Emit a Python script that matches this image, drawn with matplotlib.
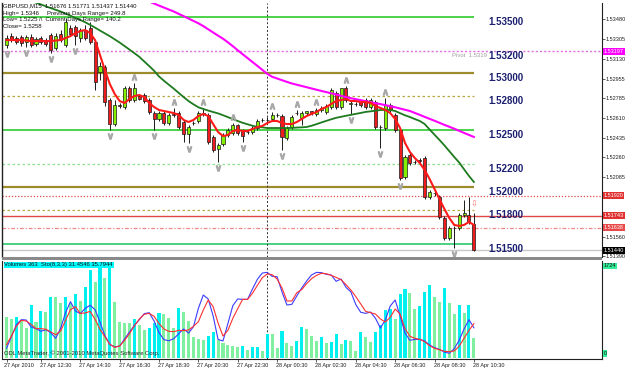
import matplotlib
matplotlib.use("Agg")
import matplotlib.pyplot as plt
import matplotlib.transforms as mtrans
from matplotlib.patches import Rectangle
import numpy as np

plt.rcParams['font.family'] = ['Liberation Sans', 'DejaVu Sans']

# ---------------- data ----------------
header = "GBPUSD,M15  1.51676 1.51771 1.51437 1.51440"
info_lines = ["High= 1.5346     Previous Days Range= 249.8",
              "Low= 1.5225 /\\  Current Days Range= 140.2",
              "Close= 1.5258"]

opens = [1.53251, 1.53330, 1.53313, 1.53322, 1.53278, 1.53322, 1.53260, 1.53313, 1.53295, 1.53339,
         1.53225, 1.53348, 1.53251, 1.53401, 1.53410, 1.53313, 1.53383, 1.53401, 1.53278, 1.53013,
         1.53057, 1.52766, 1.52554, 1.52722, 1.52704, 1.52872, 1.52766, 1.52801, 1.52810, 1.52766,
         1.52651, 1.52598, 1.52651, 1.52563, 1.52643, 1.52651, 1.52572, 1.52466, 1.52563, 1.52581,
         1.52651, 1.52634, 1.52440, 1.52334, 1.52378, 1.52457, 1.52475, 1.52546, 1.52493, 1.52484,
         1.52484, 1.52519, 1.52590, 1.52590, 1.52598, 1.52634, 1.52625, 1.52431, 1.52528, 1.52651,
         1.52607, 1.52651, 1.52669, 1.52643, 1.52678, 1.52660, 1.52704, 1.52828, 1.52704, 1.52872,
         1.52731, 1.52731, 1.52748, 1.52766, 1.52704, 1.52748, 1.52528, 1.52519, 1.52722, 1.52634,
         1.52501, 1.52087, 1.52281, 1.52219, 1.52237, 1.52254, 1.51911, 1.51946, 1.51911, 1.51725,
         1.51549, 1.51637, 1.51637, 1.51752, 1.51752, 1.51676]
highs = [1.53339, 1.53357, 1.53330, 1.53339, 1.53339, 1.53348, 1.53322, 1.53330, 1.53313, 1.53357,
         1.53357, 1.53383, 1.53489, 1.53428, 1.53428, 1.53401, 1.53428, 1.53454, 1.53295, 1.53101,
         1.53075, 1.52784, 1.52766, 1.52740, 1.52889, 1.52889, 1.52916, 1.52819, 1.52828, 1.52784,
         1.52669, 1.52669, 1.52669, 1.52651, 1.52696, 1.52669, 1.52590, 1.52546, 1.52581, 1.52669,
         1.52696, 1.52651, 1.52457, 1.52387, 1.52475, 1.52519, 1.52563, 1.52554, 1.52510, 1.52501,
         1.52537, 1.52598, 1.52607, 1.52616, 1.52660, 1.52651, 1.52643, 1.52537, 1.52634, 1.52678,
         1.52669, 1.52669, 1.52669, 1.52696, 1.52713, 1.52731, 1.52872, 1.52845, 1.52872, 1.52889,
         1.52757, 1.52748, 1.52766, 1.52784, 1.52784, 1.52766, 1.52546, 1.52784, 1.52740, 1.52651,
         1.52519, 1.52281, 1.52299, 1.52237, 1.52254, 1.52272, 1.51972, 1.51963, 1.51928, 1.51743,
         1.51655, 1.51655, 1.51769, 1.51884, 1.51911, 1.51771]
lows = [1.53225, 1.53278, 1.53260, 1.53242, 1.53233, 1.53233, 1.53242, 1.53260, 1.53242, 1.53181,
        1.53207, 1.53278, 1.53233, 1.53330, 1.53251, 1.53278, 1.53295, 1.53260, 1.52854, 1.52942,
        1.52713, 1.52501, 1.52537, 1.52696, 1.52687, 1.52748, 1.52748, 1.52766, 1.52740, 1.52643,
        1.52501, 1.52581, 1.52546, 1.52546, 1.52616, 1.52510, 1.52396, 1.52387, 1.52546, 1.52563,
        1.52625, 1.52378, 1.52307, 1.52219, 1.52360, 1.52440, 1.52457, 1.52457, 1.52396, 1.52466,
        1.52466, 1.52501, 1.52572, 1.52572, 1.52581, 1.52616, 1.52325, 1.52413, 1.52510, 1.52634,
        1.52546, 1.52634, 1.52634, 1.52625, 1.52660, 1.52643, 1.52687, 1.52687, 1.52687, 1.52748,
        1.52643, 1.52713, 1.52704, 1.52687, 1.52687, 1.52510, 1.52343, 1.52501, 1.52660, 1.52484,
        1.52061, 1.52070, 1.52193, 1.52201, 1.52210, 1.51893, 1.51893, 1.51921, 1.51716, 1.51531,
        1.51531, 1.51461, 1.51620, 1.51734, 1.51672, 1.51437]
closes = [1.53313, 1.53295, 1.53278, 1.53269, 1.53322, 1.53251, 1.53304, 1.53278, 1.53260, 1.53207,
          1.53330, 1.53295, 1.53454, 1.53348, 1.53330, 1.53383, 1.53313, 1.53278, 1.52925, 1.53066,
          1.52748, 1.52554, 1.52722, 1.52713, 1.52872, 1.52766, 1.52872, 1.52775, 1.52757, 1.52660,
          1.52598, 1.52651, 1.52563, 1.52634, 1.52634, 1.52528, 1.52466, 1.52528, 1.52560, 1.52651,
          1.52643, 1.52396, 1.52325, 1.52369, 1.52457, 1.52501, 1.52546, 1.52475, 1.52448, 1.52484,
          1.52519, 1.52581, 1.52590, 1.52586, 1.52634, 1.52631, 1.52440, 1.52519, 1.52616, 1.52648,
          1.52651, 1.52669, 1.52651, 1.52678, 1.52696, 1.52713, 1.52854, 1.52704, 1.52872, 1.52766,
          1.52740, 1.52728, 1.52722, 1.52704, 1.52766, 1.52528, 1.52525, 1.52722, 1.52678, 1.52501,
          1.52078, 1.52263, 1.52210, 1.52216, 1.52228, 1.51911, 1.51955, 1.51943, 1.51734, 1.51549,
          1.51637, 1.51634, 1.51752, 1.51769, 1.51690, 1.51440]

ma_fast = [1.53295, 1.53295, 1.53295, 1.53295, 1.53291, 1.53286, 1.53286, 1.53286, 1.53286, 1.53286,
           1.53291, 1.53295, 1.53313, 1.53330, 1.53357, 1.53375, 1.53383, 1.53357, 1.53295, 1.53163,
           1.53031, 1.52907, 1.52819, 1.52757, 1.52740, 1.52775, 1.52801, 1.52810, 1.52792, 1.52740,
           1.52704, 1.52678, 1.52669, 1.52660, 1.52651, 1.52634, 1.52590, 1.52572, 1.52590, 1.52625,
           1.52643, 1.52625, 1.52554, 1.52484, 1.52448, 1.52457, 1.52493, 1.52501, 1.52493, 1.52493,
           1.52510, 1.52528, 1.52537, 1.52563, 1.52581, 1.52581, 1.52563, 1.52554, 1.52554, 1.52572,
           1.52598, 1.52625, 1.52643, 1.52660, 1.52687, 1.52704, 1.52731, 1.52757, 1.52766, 1.52775,
           1.52757, 1.52757, 1.52748, 1.52748, 1.52740, 1.52713, 1.52696, 1.52678, 1.52651, 1.52598,
           1.52519, 1.52387, 1.52307, 1.52254, 1.52210, 1.52148, 1.52069, 1.51981, 1.51893, 1.51805,
           1.51725, 1.51664, 1.51655, 1.51664, 1.51690, 1.51664]
ma_mid = [1.53719, 1.53701, 1.53688, 1.53674, 1.53657, 1.53639, 1.53625, 1.53609, 1.53593, 1.53577,
          1.53562, 1.53547, 1.53529, 1.53510, 1.53490, 1.53472, 1.53452, 1.53429, 1.53405, 1.53379,
          1.53354, 1.53329, 1.53301, 1.53273, 1.53242, 1.53211, 1.53179, 1.53147, 1.53106, 1.53066,
          1.53024, 1.52974, 1.52936, 1.52901, 1.52866, 1.52829, 1.52792, 1.52757, 1.52728, 1.52702,
          1.52687, 1.52673, 1.52660, 1.52648, 1.52632, 1.52615, 1.52598, 1.52581, 1.52565, 1.52552,
          1.52539, 1.52528, 1.52525, 1.52519, 1.52519, 1.52519, 1.52519, 1.52519, 1.52520, 1.52523,
          1.52525, 1.52528, 1.52539, 1.52553, 1.52568, 1.52582, 1.52596, 1.52609, 1.52618, 1.52627,
          1.52635, 1.52644, 1.52652, 1.52661, 1.52666, 1.52672, 1.52678, 1.52678, 1.52678, 1.52669,
          1.52650, 1.52631, 1.52616, 1.52598, 1.52581, 1.52554, 1.52506, 1.52460, 1.52414, 1.52366,
          1.52315, 1.52264, 1.52215, 1.52155, 1.52096, 1.52043]
ma_slow_start = 28
ma_slow = [1.53653, 1.53636, 1.53617, 1.53599, 1.53582, 1.53564, 1.53547, 1.53526, 1.53506, 1.53485,
           1.53464, 1.53443, 1.53418, 1.53390, 1.53362, 1.53334, 1.53307, 1.53275, 1.53241, 1.53205,
           1.53170, 1.53136, 1.53101, 1.53067, 1.53032, 1.52997, 1.52971, 1.52956, 1.52941, 1.52926,
           1.52912, 1.52901, 1.52890, 1.52879, 1.52868, 1.52857, 1.52846, 1.52836, 1.52825, 1.52815,
           1.52803, 1.52792, 1.52782, 1.52773, 1.52765, 1.52756, 1.52747, 1.52738, 1.52730, 1.52721,
           1.52712, 1.52702, 1.52691, 1.52680, 1.52669, 1.52652, 1.52635, 1.52617, 1.52600, 1.52583,
           1.52565, 1.52547, 1.52530, 1.52513, 1.52494, 1.52476, 1.52458, 1.52440]

volumes = [731, 695, 742, 682, 533, 952, 652, 844, 832, 1101,
           1090, 993, 1090, 982, 1149, 1029, 1281, 1580, 1371, 1700,
           1431, 1688, 1011, 652, 634, 620, 695, 593, 503, 533,
           623, 803, 790, 713, 533, 893, 832, 665, 371, 335,
           323, 395, 473, 323, 269, 233, 215, 197, 216, 144,
           192, 204, 132, 431, 431, 174, 491, 263, 216, 311,
           551, 521, 395, 311, 383, 275, 293, 431, 251, 323,
           305, 132, 473, 371, 293, 473, 593, 862, 874, 694,
           1143, 1233, 1161, 874, 934, 1191, 1311, 1090, 1011, 1251,
           982, 790, 952, 802, 952, 363]

stoch_main = [10.1, 22.2, 34.7, 39.9, 39.6, 32.3, 30.6, 27.8, 29.5, 26.4,
              20.5, 30.9, 47.2, 58.7, 49.0, 46.2, 51.7, 54.9, 50.3, 37.5,
              23.3, 14.2, 11.5, 12.5, 19.8, 27.1, 34.0, 39.9, 46.2, 47.2,
              38.5, 26.4, 19.1, 18.0, 20.1, 25.3, 30.2, 26.0, 32.6, 51.7,
              65.6, 61.5, 43.8, 19.4, 17.7, 35.8, 54.5, 61.5, 61.1, 61.1,
              71.9, 82.0, 88.5, 89.2, 85.0, 84.7, 68.8, 55.2, 55.9, 64.6,
              72.9, 80.2, 86.5, 89.2, 88.9, 87.2, 86.5, 79.9, 82.3, 73.6,
              68.8, 55.6, 47.6, 46.5, 47.9, 41.3, 31.2, 39.6, 54.2, 60.4,
              43.8, 26.0, 18.4, 19.4, 19.4, 17.7, 13.5, 10.8, 9.0, 6.2,
              4.9, 9.7, 18.4, 30.2, 39.9, 31.4546]
stoch_signal = [13.9, 22.9, 33.0, 39.2, 38.5, 35.1, 30.6, 30.6, 29.9, 27.1,
                24.3, 28.1, 39.2, 50.3, 53.5, 46.5, 46.9, 48.6, 40.3, 29.9,
                22.2, 14.2, 11.1, 12.5, 18.4, 25.3, 33.7, 40.6, 45.5, 46.5,
                43.4, 35.8, 30.2, 27.8, 27.4, 28.8, 28.5, 29.2, 33.0, 37.8,
                50.0, 60.4, 53.5, 36.5, 22.9, 28.8, 41.3, 51.4, 61.1, 61.1,
                67.4, 75.7, 83.7, 87.5, 86.8, 82.3, 72.9, 59.4, 59.4, 68.0,
                71.2, 77.4, 82.6, 86.1, 88.2, 87.8, 86.1, 84.0, 81.6, 76.4,
                70.8, 63.9, 56.3, 48.6, 47.2, 45.8, 40.6, 37.5, 42.4, 51.0,
                45.8, 30.6, 22.6, 20.5, 19.4, 17.0, 12.8, 10.1, 8.6, 7.0,
                6.6, 7.3, 12.2, 20.5, 28.8, 35.7944]

up_fractals = [26, 34, 40, 46, 54, 59, 63, 69, 77]
down_fractals = [0, 4, 9, 14, 21, 30, 37, 43, 48, 56, 70, 76, 80, 91]
signal_bar = 95

level_prices = [1.5350, 1.5320, 1.5300, 1.5280, 1.5250, 1.5220, 1.5200, 1.5180, 1.5150]
level_texts = ["1.53500", "1.53200", "1.53000", "1.52800", "1.52500", "1.52200", "1.52000", "1.51800", "1.51500"]

pivot_price = 1.53197
res_line = 1.51920
pp_line = 1.51743
sup_line = 1.51638
bid_price = 1.51440

axis_ticks = [1.53480, 1.53305, 1.53130, 1.52955, 1.52785, 1.52610, 1.52435, 1.52260, 1.52085, 1.51560, 1.51390]
axis_tick_labels = ["1.53480", "1.53305", "1.53130", "1.52955", "1.52785", "1.52610", "1.52435",
                    "1.52260", "1.52085", "1.51560", "1.51390"]

time_labels = ['27 Apr 2010', '27 Apr 12:30', '27 Apr 14:30', '27 Apr 16:30', '27 Apr 18:30',
               '27 Apr 20:30', '27 Apr 22:30', '28 Apr 00:30', '28 Apr 02:30', '28 Apr 04:30',
               '28 Apr 06:30', '28 Apr 08:30', '28 Apr 10:30']
time_label_bars = [0, 7, 15, 23, 31, 39, 47, 55, 63, 71, 79, 87, 95]
day_separator_bar = 53

vol_max_label = "1724"
sub_header = "Volumes 363  Sto(8,3,3) 31.4546 35.7944"
copyright_text = "ODL MetaTrader, \u00a9 2001-2010 MetaQuotes Software Corp."

# ---------------- figure ----------------
W, H = 625, 370
fig = plt.figure(figsize=(6.25, 3.7), dpi=100)
fig.patch.set_facecolor('white')

def rect(l, t, r, b):
    return [l / W, 1 - b / H, (r - l) / W, (b - t) / H]

ax = fig.add_axes(rect(2, 3, 602, 257))
axv = fig.add_axes(rect(2, 261, 602, 359))
XL = (-0.915, 121.04)

n = len(opens)
x = np.arange(n)
o = np.array(opens); h = np.array(highs); l = np.array(lows); c = np.array(closes)

ax.set_xlim(*XL)
ax.set_ylim(1.51381, 1.53622)
ax.set_facecolor('white')

# level lines
last = n - 1
ax.hlines(1.5350, -1, last, color='#2ecc2e', lw=1.2, zorder=1)
ax.hlines(1.5300, -1, last, color='#9c8c2c', lw=1.6, zorder=1)
ax.hlines(1.5280, -1, last, color='#b8a840', lw=0.9, linestyles=(0, (2, 2)), zorder=1)
ax.hlines(1.5250, -1, last, color='#2ecc2e', lw=1.2, zorder=1)
ax.hlines(1.5220, -1, last, color='#8ee08e', lw=0.9, linestyles=(0, (2, 2)), zorder=1)
ax.hlines(1.5200, -1, last, color='#9c8c2c', lw=1.6, zorder=1)
ax.hlines(1.5180, -1, last, color='#b8a840', lw=0.9, linestyles=(0, (2, 2)), zorder=1)
ax.hlines(1.5150, -1, last, color='#3ccf7a', lw=1.3, zorder=1)
ax.axhline(pivot_price, color='#e070e0', lw=1.0, ls=(0, (1.5, 1.5)), zorder=1)
ax.axhline(res_line, color='#e04848', lw=0.9, ls=(0, (1, 1.5)), zorder=1)
ax.axhline(pp_line, color='#e04848', lw=1.0, zorder=1)
ax.axhline(sup_line, color='#f08888', lw=0.9, ls=(0, (3, 1.5, 1, 1.5)), zorder=1)
ax.axhline(bid_price, color='#c8c8c8', lw=1.0, zorder=1)

# day separator
for a in (ax, axv):
    a.axvline(day_separator_bar, color='#303030', lw=0.7, ls=(0, (2, 2)), zorder=2)

# moving averages
ax.plot(x, ma_mid, color='#1e7a1e', lw=1.3, zorder=5)
xs = np.arange(ma_slow_start, ma_slow_start + len(ma_slow))
ax.plot(xs, ma_slow, color='#ff00ff', lw=1.5, zorder=5)

# candles
ax.vlines(x, l, h, color='#1a1a1a', lw=0.7, zorder=3)
up = c >= o
bot = np.minimum(o, c)
bh = np.maximum(np.abs(c - o), 0.00002)
ax.bar(x[up], bh[up], bottom=bot[up], width=0.62, color='#84f000', edgecolor='#1a1a1a', lw=0.5, zorder=4)
ax.bar(x[~up], bh[~up], bottom=bot[~up], width=0.62, color='#ee1c1c', edgecolor='#1a1a1a', lw=0.5, zorder=4)

ax.plot(x, ma_fast, color='#ff1a1a', lw=1.5, zorder=6)

# fractals
tr_up = mtrans.offset_copy(ax.transData, fig=fig, x=0, y=6, units='dots')
tr_dn = mtrans.offset_copy(ax.transData, fig=fig, x=0, y=-6, units='dots')
ax.plot(up_fractals, h[up_fractals], ls='none', marker=r'$\wedge$', ms=3.8, color='#a8a8a8',
        transform=tr_up, zorder=7)
ax.plot(down_fractals, l[down_fractals], ls='none', marker=r'$\vee$', ms=3.8, color='#a8a8a8',
        transform=tr_dn, zorder=7)
tr_sig = mtrans.offset_copy(ax.transData, fig=fig, x=0, y=9, units='dots')
ax.text(signal_bar, h[signal_bar], '\u21e9', color='#ff6a6a', fontsize=6, ha='center', va='center',
        transform=tr_sig, family=['DejaVu Sans'], zorder=8)

# big level labels
for p, t in zip(level_prices, level_texts):
    ax.text(97.9, p, t, color='#1c2070', fontsize=7, fontweight='bold', ha='left', va='top', zorder=9)
ax.text(97.6, pivot_price - 0.00012, 'Pivot  1.5319', color='#a0a0a0', fontsize=4.3, ha='right', va='top', zorder=8)

# right axis
for s in ['top', 'bottom']:
    ax.spines[s].set_visible(False)
ax.spines['left'].set_color('#202020'); ax.spines['left'].set_linewidth(1.0)
ax.spines['right'].set_color('#202020'); ax.spines['right'].set_linewidth(0.8)
ax.set_xticks([])
ax.yaxis.tick_right()
ax.set_yticks(axis_ticks)
ax.set_yticklabels(axis_tick_labels)
ax.tick_params(axis='y', right=True, left=False, labelright=True, labelleft=False,
               length=1.8, width=0.5, pad=0.6, labelsize=4, colors='#202020')

tr_rlab = mtrans.blended_transform_factory(fig.transFigure, ax.transData)
def price_tag(p, txt, bg, fg='white'):
    ax.text(603.5 / W, p, txt, transform=tr_rlab, fontsize=4, color=fg, ha='left', va='center',
            bbox=dict(boxstyle='square,pad=0.18', fc=bg, ec='none'), zorder=10, clip_on=False)
price_tag(pivot_price, '1.53197', '#ff00ff')
price_tag(res_line, '1.51920', '#e03030')
price_tag(pp_line, '1.51743', '#e03030')
price_tag(sup_line, '1.51638', '#e84848')
price_tag(bid_price, '1.51440', '#000000')

# header texts
fig.text(3 / W, 1 - 6 / H, header, fontsize=4.3, color='#101010', va='center', ha='left')
for k, t in enumerate(info_lines):
    fig.text(3 / W, 1 - (13 + 7 * k) / H, t, fontsize=4.3, color='#101010', va='center', ha='left')

# separator band between panels
fig.patches.append(Rectangle((2 / W, 1 - 260 / H), 600 / W, 3.5 / H, transform=fig.transFigure,
                             facecolor='#8a8a8a', edgecolor='none', zorder=20))

# ---------------- volume / stochastic window ----------------
axv.set_xlim(*XL)
axv.set_ylim(-17.96, 1742.1)
vol = np.array(volumes)
prev = np.concatenate([[vol[0]], vol[:-1]])
vcol = np.where(vol > prev, '#00f0f0', '#80f0a0')
axv.bar(x, vol, width=0.62, color=vcol, edgecolor='none', zorder=2)
for s in ['top']:
    axv.spines[s].set_visible(False)
for s in ['left', 'right', 'bottom']:
    axv.spines[s].set_color('#202020'); axv.spines[s].set_linewidth(0.8)
axv.set_yticks([])
axv.set_xticks(time_label_bars)
axv.tick_params(axis='x', length=2.2, width=0.5, labelbottom=False, direction='out', colors='#202020')

axs = axv.twinx()
axs.set_xlim(*XL)
axs.set_ylim(-1.04, 101.04)
axs.plot(x, stoch_main, color='#3c3cff', lw=0.8, zorder=4)
axs.plot(x, stoch_signal, color='#ff3030', lw=0.8, zorder=4)
axs.axis('off')

axv.text(0.004, 0.985, sub_header, transform=axv.transAxes, fontsize=4.2, color='#101010',
         ha='left', va='top', bbox=dict(boxstyle='square,pad=0.15', fc='#00ffff', ec='none'), zorder=10)
axv.text(0.004, 0.03, copyright_text, transform=axv.transAxes, fontsize=4.2, color='#202020',
         ha='left', va='bottom', zorder=10)

tr_sub = mtrans.blended_transform_factory(fig.transFigure, axv.transAxes)
axv.text(603.5 / W, 0.975, vol_max_label, transform=tr_sub, fontsize=4, color='#101010', ha='left', va='top',
         bbox=dict(boxstyle='square,pad=0.15', fc='#33ee99', ec='none'), clip_on=False)
axv.text(603.5 / W, 0.03, '0', transform=tr_sub, fontsize=4, color='#101010', ha='left', va='bottom',
         bbox=dict(boxstyle='square,pad=0.15', fc='#33ee99', ec='none'), clip_on=False)

# time labels
tr_time = mtrans.blended_transform_factory(axv.transData, fig.transFigure)
for b, t in zip(time_label_bars, time_labels):
    xx = -0.6 if b == 0 else b - 0.2
    axv.text(xx, 1 - 365.5 / H, t, transform=tr_time, fontsize=4, color='#202020',
             ha='left', va='center', clip_on=False)

fig.savefig('out.png', dpi=100, facecolor='white')
